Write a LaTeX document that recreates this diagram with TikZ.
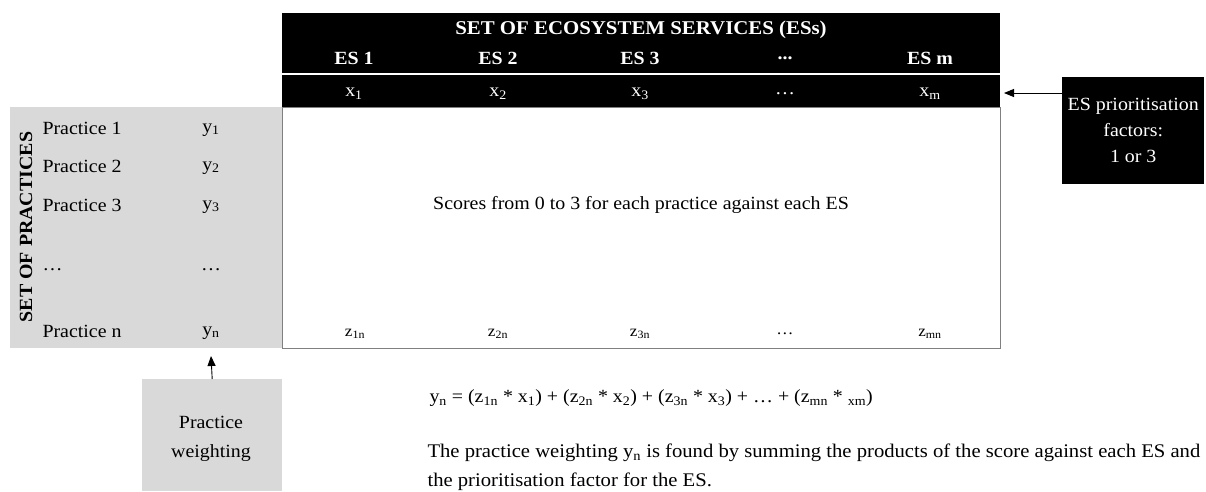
\documentclass[tikz,border=0pt]{standalone}
\usepackage{fontspec}
\setmainfont{Liberation Serif}[FakeStretch=1.07]
\usetikzlibrary{arrows.meta}
\definecolor{panelgray}{HTML}{D9D9D9}
\definecolor{framegray}{HTML}{808080}
\tikzset{
  blackbar/.style={fill=black, draw=none, anchor=north west, inner sep=0},
  graybox/.style={fill=panelgray, draw=none, anchor=north west, inner sep=0},
  eshead/.style={text=white, font=\fontsize{18.6}{22}\selectfont\bfseries},
  factor/.style={text=white, font=\fontsize{18.6}{22}\selectfont},
  label/.style={font=\fontsize{18.6}{22}\selectfont},
  score/.style={font=\fontsize{16}{19}\selectfont},
  pointer/.style={-{Triangle[width=8pt,length=10pt]}, line width=0.9pt}
}
\begin{document}
\begin{tikzpicture}[x=1pt, y=-1pt]
  \useasboundingbox (0,0) rectangle (1206,491);
  % Header bars
  \node[blackbar, minimum width=718, minimum height=60] (header) at (282,13) {};
  \node[blackbar, minimum width=718, minimum height=32] (factors) at (282,75) {};
  \node[eshead, font=\fontsize{19.5}{22}\selectfont\bfseries] (title) at (641,30) {SET OF ECOSYSTEM SERVICES (ESs)};
  \node[eshead] (es1) at (354,58) {ES 1};
  \node[eshead] (es2) at (498,58) {ES 2};
  \node[eshead] (es3) at (640,58) {ES 3};
  \node[eshead] (esdots) at (785,58) {...};
  \node[eshead] (esm) at (930,58) {ES m};
  \node[factor] (x1) at (354,94) {x\textsubscript{1}};
  \node[factor] (x2) at (498,94) {x\textsubscript{2}};
  \node[factor] (x3) at (640,94) {x\textsubscript{3}};
  \node[factor] (xdots) at (785,94) {…};
  \node[factor] (xm) at (930,94) {x\textsubscript{m}};
  % Score matrix
  \node[draw=framegray, line width=0.8pt, anchor=north west, inner sep=0,
        minimum width=718, minimum height=241] (matrix) at (282,107) {};
  \node[label] (scores) at (641,205) {Scores from 0 to 3 for each practice against each ES};
  \node[score] (z1) at (355,334) {z\textsubscript{1n}};
  \node[score] (z2) at (498,334) {z\textsubscript{2n}};
  \node[score] (z3) at (640,334) {z\textsubscript{3n}};
  \node[score] (zdots) at (785,334) {…};
  \node[score] (zm) at (930,334) {z\textsubscript{mn}};
  % Practices
  \node[graybox, minimum width=272, minimum height=241] (practices) at (10,107) {};
  \node[label, font=\fontsize{18.6}{22}\selectfont\bfseries, rotate=90] (setprac) at (26,227) {SET OF PRACTICES};
  \node[label, anchor=west] (p1) at (39,128) {Practice 1};
  \node[label, anchor=west] (p2) at (39,166) {Practice 2};
  \node[label, anchor=west] (p3) at (39,205) {Practice 3};
  \node[label, anchor=west] (pdots) at (39,270) {…};
  \node[label, anchor=west] (pn) at (39,331) {Practice n};
  \node[label] (y1) at (211,130) {y\textsubscript{1}};
  \node[label] (y2) at (211,168) {y\textsubscript{2}};
  \node[label] (y3) at (211,207) {y\textsubscript{3}};
  \node[label] (ydots) at (211,270) {…};
  \node[label] (yn) at (211,333) {y\textsubscript{n}};
  % Prioritisation factors
  \node[blackbar, minimum width=142, minimum height=107] (prio) at (1062,77) {};
  \node[factor, align=center] (priotext) at (prio.center) {ES prioritisation\\[4pt]factors:\\[4pt]1 or 3};
  \coordinate (prioend) at (1004,93);
  \draw[pointer] (prio.west |- prioend) -- (prioend);
  % Practice weighting
  \node[graybox, minimum width=140, minimum height=112] (weight) at (142,379) {};
  \node[label, align=center] (weighttext) at (211,439) {Practice\\[7pt]weighting};
  \coordinate (weightend) at (211,356);
  \draw[pointer] (weight.north) -- (weightend);
  % Formula and explanation
  \node[label, anchor=west] (formula) at (426,398) {y\textsubscript{n} = (z\textsubscript{1n} * x\textsubscript{1}) + (z\textsubscript{2n} * x\textsubscript{2}) + (z\textsubscript{3n} * x\textsubscript{3}) + … + (z\textsubscript{mn} * \textsubscript{xm})};
  \node[label, anchor=north west, align=left, font=\fontsize{19.3}{29}\selectfont] (explain) at (424,440)
    {The practice weighting y\textsubscript{n} is found by summing the products of the score against each ES and\\the prioritisation factor for the ES.};
\end{tikzpicture}
\end{document}
